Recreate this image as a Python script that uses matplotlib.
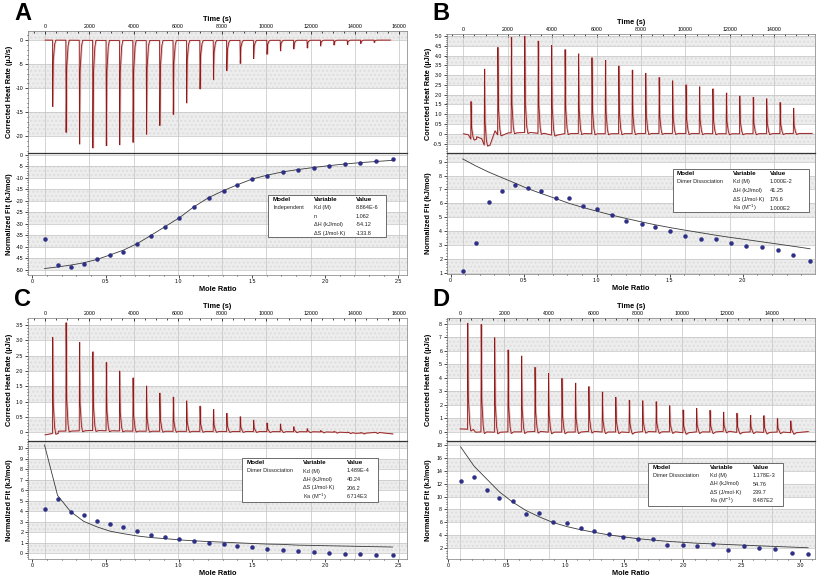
import numpy as np
import matplotlib.pyplot as plt
from matplotlib.ticker import MultipleLocator, AutoMinorLocator, FuncFormatter
from matplotlib.transforms import blended_transform_factory
from matplotlib.patches import Rectangle

plt.rcParams['font.family'] = ['Liberation Sans', 'DejaVu Sans']

# injection times (s), same schedule in every run
inj_time = [335, 940, 1545, 2150, 2755, 3360, 3965, 4570, 5175, 5780, 6385, 6990, 7595,
            8200, 8805, 9410, 10015, 10620, 11225, 11830, 12435, 13040, 13645, 14250, 14855]

# peak heights (uJ/s)
a_peaks = [-13.8, -19.2, -21.6, -22.4, -21.9, -21.7, -21.2, -19.5, -17.7, -15.4, -13.0, -10.1, -8.2,
           -6.3, -4.8, -3.8, -2.9, -2.2, -1.8, -1.6, -1.2, -1.0, -0.9, -0.7, -0.5]
b_peaks = [1.92, 3.88, 4.47, 4.88, 4.92, 4.71, 4.58, 4.29, 4.07, 3.88, 3.75, 3.46, 3.24,
           3.07, 2.86, 2.69, 2.49, 2.39, 2.29, 2.08, 1.93, 1.86, 1.78, 1.59, 1.29]
c_peaks = [3.12, 3.52, 2.87, 2.56, 2.22, 1.95, 1.73, 1.47, 1.24, 1.11, 0.99, 0.82, 0.71,
           0.59, 0.48, 0.37, 0.28, 0.25, 0.16, 0.10, 0.05, 0.03, 0.02, 0.02, 0.01]
d_peaks = [7.9, 8.0, 7.03, 6.09, 5.64, 4.77, 4.37, 4.0, 3.63, 3.33, 2.98, 2.58, 2.39,
           2.29, 2.24, 1.94, 1.69, 1.74, 1.61, 1.42, 1.42, 1.22, 1.24, 1.0, 0.87]

# baselines (time, value)
a_base_t = [0, 4000, 15600]
a_base_v = [0.0, -0.1, 0.0]
b_base_t = [0, 225, 400, 600, 825, 1000, 1125, 1425, 1600, 1725, 2025, 2400, 3000, 4200, 4600,
            6000, 9000, 12000, 15700]
b_base_v = [0.0, -0.05, -0.4, -0.15, -0.25, -0.75, 0.25, 0.15, -0.15, 0.2, 0.05, 0.05, 0.08,
            -0.1, 0.02, 0.0, 0.02, 0.0, 0.02]
c_base_t = [0, 300, 600, 1500, 2000, 4000, 8000, 12000, 13500, 14000, 15000, 15700]
c_base_v = [-0.08, -0.04, 0.04, 0.05, 0.06, 0.04, 0.03, 0.02, 0.0, -0.03, 0.0, -0.05]
d_base_t = [0, 300, 700, 1200, 1800, 2400, 3000, 3600, 4200, 4800, 5400, 6000, 6600, 7200, 7800,
            8400, 9000, 9600, 10200, 10800, 11400, 12000, 12600, 13200, 13800, 14400, 15000, 15650]
d_base_v = [0.2, 0.18, -0.05, 0.0, -0.08, 0.02, -0.05, 0.05, -0.1, 0.0, -0.05, 0.05, -0.08, 0.0,
            -0.1, 0.05, -0.05, 0.0, -0.12, 0.02, -0.05, 0.05, -0.1, 0.0, -0.08, -0.02, -0.1, 0.0]

# mole ratios
mole_abc = [0.083, 0.172, 0.261, 0.351, 0.443, 0.530, 0.622, 0.718, 0.810, 0.906, 1.005, 1.103, 1.204,
            1.307, 1.401, 1.502, 1.606, 1.711, 1.814, 1.922, 2.025, 2.133, 2.239, 2.346, 2.461]
mole_d = [0.105, 0.219, 0.327, 0.435, 0.548, 0.662, 0.776, 0.889, 1.009, 1.128, 1.244, 1.369, 1.491,
          1.619, 1.741, 1.866, 1.997, 2.122, 2.253, 2.386, 2.52, 2.65, 2.787, 2.926, 3.068]

# integrated heats (kJ/mol) and fit curves
a_heat = [-36.8, -48.0, -49.0, -47.7, -45.5, -43.6, -42.2, -38.9, -35.4, -31.6, -27.7, -22.8, -18.9,
          -15.9, -13.3, -10.7, -9.1, -7.7, -6.8, -5.9, -5.1, -4.2, -3.6, -2.7, -2.0]
a_fit = [-49.5, -48.8, -48.0, -47.0, -45.5, -43.6, -41.5, -38.6, -35.1, -31.3, -27.4, -22.7, -18.7,
         -15.6, -13.1, -10.6, -8.9, -7.5, -6.5, -5.6, -4.8, -4.1, -3.5, -3.0, -2.5]
b_heat = [1.14, 3.12, 6.07, 6.89, 7.30, 7.08, 6.89, 6.36, 6.41, 5.81, 5.57, 5.18, 4.75,
          4.51, 4.27, 4.03, 3.64, 3.45, 3.40, 3.12, 2.95, 2.85, 2.61, 2.27, 1.87]
b_fit = [9.2, 8.7, 8.25, 7.85, 7.45, 7.05, 6.7, 6.35, 6.0, 5.7, 5.42, 5.15, 4.9,
         4.66, 4.45, 4.25, 4.06, 3.88, 3.7, 3.53, 3.38, 3.22, 3.06, 2.9, 2.72]
c_heat = [4.18, 5.14, 3.96, 3.59, 3.10, 2.79, 2.51, 2.07, 1.76, 1.58, 1.39, 1.18, 0.99,
          0.84, 0.65, 0.56, 0.37, 0.28, 0.25, 0.12, 0.03, -0.03, -0.09, -0.15, -0.19]
c_fit = [10.3, 5.5, 3.96, 3.03, 2.5, 2.1, 1.86, 1.64, 1.49, 1.39, 1.27, 1.18, 1.11,
         1.05, 0.99, 0.93, 0.87, 0.84, 0.77, 0.74, 0.71, 0.68, 0.65, 0.62, 0.59]
d_heat = [12.4, 13.1, 11.1, 9.8, 9.3, 7.25, 7.45, 6.05, 5.9, 5.1, 4.65, 4.25, 3.7,
          3.35, 3.45, 2.55, 2.5, 2.35, 2.6, 1.75, 2.25, 1.95, 1.9, 1.2, 1.05]
d_fit = [17.75, 14.75, 12.75, 10.75, 9.15, 7.85, 6.85, 6.0, 5.35, 4.85, 4.45, 4.05, 3.75,
         3.45, 3.25, 3.05, 2.9, 2.75, 2.65, 2.55, 2.45, 2.35, 2.25, 2.15, 2.05]

# fit result tables
a_table = [["Independent", "Kd (M)", "8.864E-6"], ["", "n", "1.062"],
           ["", "ΔH (kJ/mol)", "-54.12"], ["", "ΔS (J/mol·K)", "-133.8"]]
b_table = [["Dimer Dissociation", "Kd (M)", "1.000E-2"], ["", "ΔH (kJ/mol)", "41.25"],
           ["", "ΔS (J/mol·K)", "176.6"], ["", "Ka (M$^{-1}$)", "1.000E2"]]
c_table = [["Dimer Dissociation", "Kd (M)", "1.489E-4"], ["", "ΔH (kJ/mol)", "40.24"],
           ["", "ΔS (J/mol·K)", "206.2"], ["", "Ka (M$^{-1}$)", "6.714E3"]]
d_table = [["Dimer Dissociation", "Kd (M)", "1.178E-3"], ["", "ΔH (kJ/mol)", "54.76"],
           ["", "ΔS (J/mol·K)", "239.7"], ["", "Ka (M$^{-1}$)", "8.487E2"]]

W, H = 817, 578
fig = plt.figure(figsize=(W / 100, H / 100), dpi=100)


def rect(x0, y0, x1, y1):
    return [x0 / W, 1 - y1 / H, (x1 - x0) / W, (y1 - y0) / H]


def trace(times, peaks, bt, bv, under):
    keep = [i for i, t in enumerate(bt) if not any(s - 5 <= t <= s + 260 for s in times)]
    pts = [(bt[i], bv[i]) for i in keep]
    for t, h in zip(times, peaks):
        b = np.interp(t, bt, bv)
        for dt, f, u in [(0, 0, 0), (12, 1, 0), (40, 0.3, 0), (100, 0.06, 0), (150, 0, under), (260, 0, 0)]:
            pts.append((t + dt, b + f * h - u))
    pts.sort()
    return np.array(pts).T


def fmt_half(v, pos):
    if abs(v) < 1e-9:
        return "0"
    return "%.1f" % v


def fmt_int(v, pos):
    if abs(v) < 1e-9:
        return "0"
    return "%d" % round(v)


def shade(ax, bands):
    for lo, hi in bands:
        ax.axhspan(lo, hi, facecolor='#ededed', edgecolor='#dedede', hatch='....', lw=0, zorder=0)


panels = [
    dict(letter="A", lx=14, ly=14, x0=28, x1=407, top=(31, 153), bot=(153, 275),
         tlim=(-768, 16350), ylim_t=(-23.5, 1.9), ystep_t=5, bands_t=[(0, 5), (-10, -5), (-20, -15)],
         peaks=a_peaks, bt=a_base_t, bv=a_base_v, under=0,
         mlim=(-0.03, 2.56), ylim_b=(-52.3, 0.7), ystep_b=5, mstep=0.5,
         bands_b=[(-10, -5), (-20, -15), (-30, -25), (-40, -35), (-50, -45)],
         mole=mole_abc, heat=a_heat, fit=a_fit, table=a_table,
         tbox=(268, 195, 386, 237), cols=(273, 314, 356), ty=(199, 207.5, 216, 224.5, 233)),
    dict(letter="B", lx=432, ly=14, x0=447, x1=815, top=(34, 153), bot=(153, 274),
         tlim=(-734, 15833), ylim_t=(-0.98, 5.1), ystep_t=0.5,
         bands_t=[(4.5, 5), (3.5, 4), (2.5, 3), (1.5, 2), (0.5, 1), (-0.5, 0)],
         peaks=b_peaks, bt=b_base_t, bv=b_base_v, under=0.05,
         mlim=(-0.025, 2.495), ylim_b=(0.9, 9.63), ystep_b=1, mstep=0.5,
         bands_b=[(9, 10), (7, 8), (5, 6), (3, 4), (1, 2)],
         mole=mole_abc, heat=b_heat, fit=b_fit, table=b_table,
         tbox=(673, 169, 809, 212), cols=(677, 733, 770), ty=(173.5, 181.7, 190.3, 199.3, 208)),
    dict(letter="C", lx=14, ly=300, x0=28, x1=407, top=(318, 441), bot=(441, 559),
         tlim=(-768, 16350), ylim_t=(-0.28, 3.72), ystep_t=0.5,
         bands_t=[(3, 3.5), (2, 2.5), (1, 1.5), (0, 0.5)],
         peaks=c_peaks, bt=c_base_t, bv=c_base_v, under=0.03,
         mlim=(-0.03, 2.56), ylim_b=(-0.55, 10.68), ystep_b=1, mstep=0.5,
         bands_b=[(10, 11), (8, 9), (6, 7), (4, 5), (2, 3), (0, 1)],
         mole=mole_abc, heat=c_heat, fit=c_fit, table=c_table,
         tbox=(242, 458, 378, 502), cols=(247, 303, 347), ty=(463, 471, 479.5, 488, 496.5)),
    dict(letter="D", lx=432, ly=300, x0=447, x1=815, top=(318, 441), bot=(441, 559),
         tlim=(-584, 15955), ylim_t=(-0.7, 8.45), ystep_t=1,
         bands_t=[(8, 9), (6, 7), (4, 5), (2, 3), (0, 1)],
         peaks=d_peaks, bt=d_base_t, bv=d_base_v, under=0.12,
         mlim=(-0.011, 3.126), ylim_b=(0.3, 18.65), ystep_b=2, mstep=0.5,
         bands_b=[(18, 20), (14, 16), (10, 12), (6, 8), (2, 4)],
         mole=mole_d, heat=d_heat, fit=d_fit, table=d_table,
         tbox=(648, 463, 783, 506), cols=(653, 710, 753), ty=(467.5, 475.5, 484, 492.5, 501)),
]

lab_kw = dict(fontsize=5.3, fontweight='bold')

for p in panels:
    axt = fig.add_axes(rect(p['x0'], p['top'][0], p['x1'], p['top'][1]))
    axb = fig.add_axes(rect(p['x0'], p['bot'][0], p['x1'], p['bot'][1]))
    lab_x = -15 / (p['x1'] - p['x0'])

    # thermogram
    shade(axt, p['bands_t'])
    tx, ty = trace(inj_time, p['peaks'], p['bt'], p['bv'], p['under'])
    axt.plot(tx + 25, ty, color='#e6b8b8', lw=1.0, zorder=2)
    axt.plot(tx, ty, color='#8e1b1b', lw=0.6, zorder=3)
    axt.set_xlim(*p['tlim'])
    axt.set_ylim(*p['ylim_t'])
    axt.xaxis.set_major_locator(MultipleLocator(2000))
    axt.xaxis.set_minor_locator(AutoMinorLocator(4))
    axt.xaxis.set_major_formatter(FuncFormatter(fmt_int))
    axt.xaxis.tick_top()
    axt.xaxis.set_label_position('top')
    axt.set_xlabel("Time (s)", labelpad=2, **lab_kw)
    axt.tick_params(axis='x', which='both', direction='in', labelsize=3.8, pad=1.5,
                    top=True, bottom=False, length=2.5, width=0.5)
    axt.tick_params(axis='x', which='minor', length=1.5)
    axt.yaxis.set_major_locator(MultipleLocator(p['ystep_t']))
    axt.yaxis.set_minor_locator(AutoMinorLocator(5))
    axt.yaxis.set_major_formatter(FuncFormatter(fmt_half if p['ystep_t'] < 1 else fmt_int))
    axt.tick_params(axis='y', which='both', direction='out', labelsize=3.8, pad=1.5,
                    length=2, width=0.5)
    axt.tick_params(axis='y', which='minor', length=1)
    axt.set_ylabel("Corrected Heat Rate (µJ/s)", **lab_kw)
    axt.yaxis.set_label_coords(lab_x, 0.5)
    axt.grid(True, which='major', color='#c4c4c4', lw=0.5, zorder=1)

    # isotherm
    shade(axb, p['bands_b'])
    tr = blended_transform_factory(axt.transData, axb.transAxes)
    axb.vlines(np.arange(0, 16001, 2000), 0, 1, transform=tr, color='#c4c4c4', lw=0.5, zorder=1)
    axb.plot(p['mole'], p['fit'], color='#3a3a3a', lw=0.6, zorder=3)
    axb.plot(p['mole'], p['heat'], 'o', ms=2.8, color='#2d2f8c', mec='#1d1f6a', mew=0.3, zorder=4)
    axb.set_xlim(*p['mlim'])
    axb.set_ylim(*p['ylim_b'])
    axb.xaxis.set_major_locator(MultipleLocator(p['mstep']))
    axb.xaxis.set_minor_locator(AutoMinorLocator(5))
    axb.xaxis.set_major_formatter(FuncFormatter(fmt_half))
    axb.tick_params(axis='x', which='both', direction='out', labelsize=3.8, pad=1,
                    length=2, width=0.5)
    axb.tick_params(axis='x', which='minor', length=1)
    axb.set_xlabel("Mole Ratio", labelpad=1, **lab_kw)
    axb.yaxis.set_major_locator(MultipleLocator(p['ystep_b']))
    axb.yaxis.set_minor_locator(AutoMinorLocator(5))
    axb.yaxis.set_major_formatter(FuncFormatter(fmt_int))
    axb.tick_params(axis='y', which='both', direction='out', labelsize=3.8, pad=1.5,
                    length=2, width=0.5)
    axb.tick_params(axis='y', which='minor', length=1)
    axb.set_ylabel("Normalized Fit (kJ/mol)", **lab_kw)
    axb.yaxis.set_label_coords(lab_x, 0.5)
    axb.grid(True, which='major', axis='y', color='#c4c4c4', lw=0.5, zorder=1)

    for ax in (axt, axb):
        for s in ax.spines.values():
            s.set_linewidth(0.5)
            s.set_color('#7a7a7a')
    axb.spines['top'].set_color('#333333')
    axb.spines['top'].set_linewidth(0.9)

    # fit table
    bx0, by0, bx1, by1 = p['tbox']
    fig.patches.append(Rectangle((bx0 / W, 1 - by1 / H), (bx1 - bx0) / W, (by1 - by0) / H,
                                 transform=fig.transFigure, facecolor='white',
                                 edgecolor='#555555', lw=0.6, zorder=5))
    for j, head in enumerate(["Model", "Variable", "Value"]):
        fig.text(p['cols'][j] / W, 1 - p['ty'][0] / H, head, fontsize=4.5, fontweight='bold',
                 va='center', zorder=6)
    for r, row in enumerate(p['table']):
        for j, cell in enumerate(row):
            fig.text(p['cols'][j] / W, 1 - p['ty'][r + 1] / H, cell, fontsize=4.0,
                     va='center', color='#222222', zorder=6)

    fig.text(p['lx'] / W, 1 - p['ly'] / H, p['letter'], fontsize=17, fontweight='bold',
             va='center', ha='left')

fig.savefig("out.png", dpi=100)
